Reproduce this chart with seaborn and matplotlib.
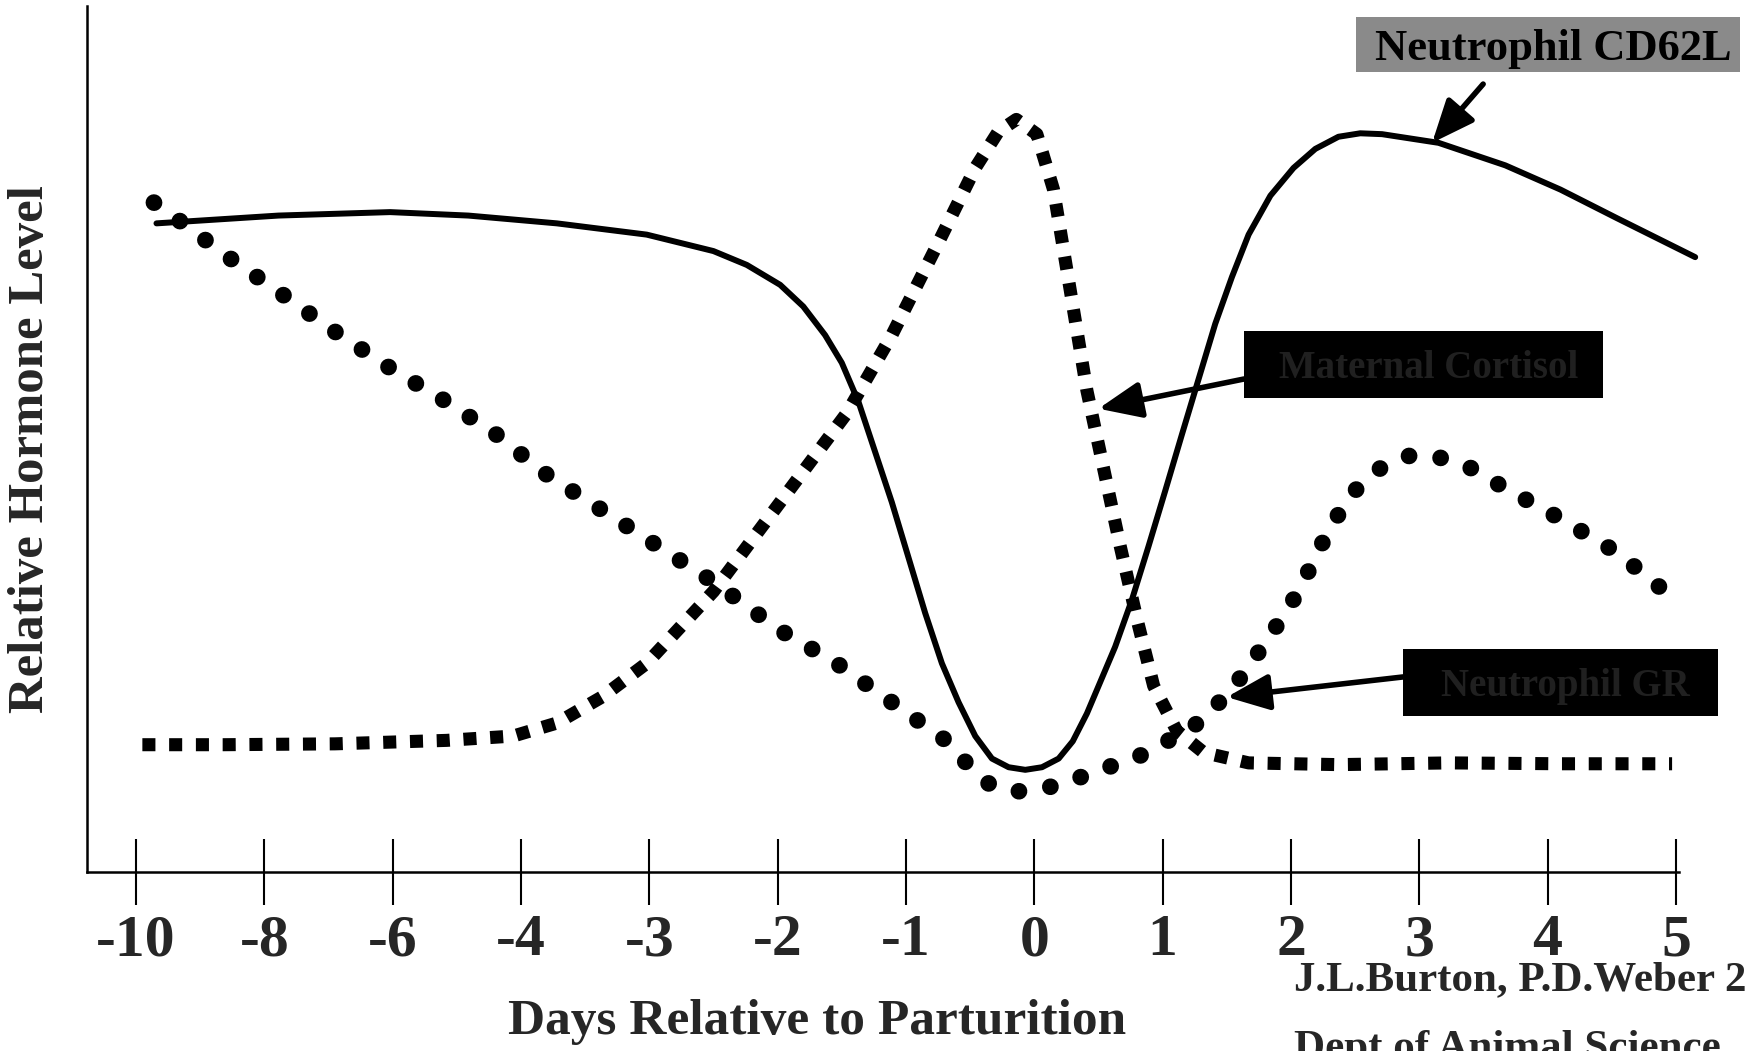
import numpy as np
import pandas as pd
import matplotlib
matplotlib.use("Agg")
import matplotlib.pyplot as plt
from matplotlib.patches import Rectangle
import seaborn as sns

# ── DATA (x = position on the evenly spaced day axis, y = relative level 0-100) ──
day_labels = ["-10", "-8", "-6", "-4", "-3", "-2", "-1", "0", "1", "2", "3", "4", "5"]

cd62l_x = [0.16, 1.11, 1.98, 2.59, 3.28, 3.98, 4.50, 4.76, 5.02, 5.20, 5.37, 5.50,
           5.63, 5.76, 5.89, 6.02, 6.15, 6.28, 6.41, 6.54, 6.67, 6.80, 6.93, 7.06,
           7.19, 7.30, 7.41, 7.63, 7.76, 7.89, 8.02, 8.15, 8.28, 8.41, 8.54, 8.67,
           8.84, 9.02, 9.19, 9.37, 9.54, 9.71, 9.93, 10.15, 10.67, 11.10, 11.54, 12.15]
cd62l_y = [74.9, 75.8, 76.2, 75.8, 74.9, 73.6, 71.7, 70.1, 67.8, 65.3, 62.0, 58.8,
           54.3, 48.5, 42.7, 36.3, 29.9, 24.1, 19.6, 15.7, 13.1, 12.1, 11.8, 12.1,
           13.1, 15.1, 18.3, 26.0, 31.4, 37.6, 44.0, 50.5, 56.9, 63.3, 68.7, 73.6,
           78.1, 81.3, 83.5, 84.9, 85.3, 85.2, 84.7, 84.2, 81.6, 78.8, 75.5, 71.0]

cortisol_x = [0.05, 0.68, 1.55, 2.42, 2.94, 3.28, 3.63, 3.98, 4.50, 5.02, 5.54, 5.89,
              6.24, 6.54, 6.72, 6.86, 7.02, 7.15, 7.28, 7.41, 7.54, 7.67, 7.80, 7.93,
              8.11, 8.32, 8.67, 9.37, 10.23, 11.10, 11.97]
cortisol_y = [14.7, 14.7, 14.8, 15.2, 15.7, 17.2, 20.2, 24.1, 32.4, 42.7, 53.0, 62.0,
              72.3, 81.3, 85.5, 86.9, 85.2, 78.8, 67.2, 55.6, 46.6, 37.6, 29.2, 21.5,
              16.3, 13.8, 12.6, 12.4, 12.6, 12.5, 12.5]

gr_x = [0.14, 0.33, 0.72, 1.16, 1.55, 1.98, 2.42, 2.81, 3.20, 3.63, 4.07, 4.50,
        5.02, 5.46, 5.89, 6.32, 6.50, 6.67, 6.89, 7.15, 7.41, 7.89, 8.32, 8.58,
        8.84, 9.06, 9.23, 9.45, 9.71, 9.93, 10.15, 10.41, 10.67, 11.10, 11.54, 11.89]
gr_y = [77.3, 75.3, 71.0, 66.5, 62.4, 58.2, 54.3, 50.5, 45.9, 41.8, 37.6, 33.5,
        27.9, 24.1, 19.6, 15.1, 12.1, 9.9, 9.3, 9.9, 11.2, 13.8, 17.6, 21.9,
        27.3, 32.4, 37.6, 43.4, 46.8, 48.1, 47.9, 46.6, 44.3, 40.8, 36.9, 32.7]

labels = ["Neutrophil CD62L", "Maternal Cortisol", "Neutrophil GR"]
arrow_targets = [(10.10, 84.2), (7.50, 53.5), (8.50, 20.2)]

sns.set_style("white")
plt.rcParams["font.family"] = ["Liberation Serif", "DejaVu Serif"]
plt.rcParams["font.weight"] = "bold"

fig = plt.figure(figsize=(17.49, 10.51), dpi=100)
ax = fig.add_axes([0.0497, 0.1703, 0.910, 0.824])

sns.lineplot(x=cd62l_x, y=cd62l_y, ax=ax, color="black", linewidth=4.3,
             clip_on=False)
sns.lineplot(x=cortisol_x, y=cortisol_y, ax=ax, color="black", linewidth=9.4,
             linestyle=(0, (1, 1.05)), dash_capstyle="butt", clip_on=False)
sns.lineplot(x=gr_x, y=gr_y, ax=ax, color="black", linewidth=12,
             linestyle=(0, (0.01, 1.9)), dash_capstyle="round", clip_on=False)

ax.set_xlim(-0.382, 12.02)
ax.set_ylim(0, 100)
ax.set_xticks(range(len(day_labels)))
ax.set_xticklabels(day_labels, fontsize=43, fontweight="bold")
ax.set_yticks([])
ax.tick_params(axis="x", bottom=True, direction="inout", length=47, width=1.5,
               pad=7, color="black")
for side in ["top", "right"]:
    ax.spines[side].set_visible(False)
for side in ["left", "bottom"]:
    ax.spines[side].set_color("black")
    ax.spines[side].set_linewidth(1.8)

ax.set_xlabel("Days Relative to Parturition", fontsize=37, fontweight="bold")
ax.xaxis.set_label_coords(0.459, -0.147)
ax.set_ylabel("Relative Hormone Level", fontsize=36.5, fontweight="bold")
ax.yaxis.set_label_coords(-0.021, 0.488)

# ── LABEL BOXES WITH ARROWS ──
boxes = [
    (0.7753, 0.9315, 0.2196, 0.0523, "#8a8a8a", "black", 32, (0.848, 0.920)),
    (0.7113, 0.6213, 0.2053, 0.0637, "black", "#202020", 28, (0.7113, 0.6394)),
    (0.8022, 0.3187, 0.1801, 0.0637, "black", "#202020", 28, (0.8022, 0.3559)),
]
for (x0, y0, w, h, fc, tc, fs, start), text, target in zip(boxes, labels, arrow_targets):
    fig.patches.append(Rectangle((x0, y0), w, h, transform=fig.transFigure,
                                 facecolor=fc, edgecolor="none", zorder=3))
    fig.text(x0 + w / 2 + 0.003, y0 + h / 2 - 0.004, text, ha="center", va="center",
             fontsize=fs, fontweight="bold", color=tc, zorder=4)
    ax.annotate("", xy=target, xycoords="data", xytext=start,
                textcoords="figure fraction",
                arrowprops=dict(arrowstyle="-|>,head_length=2.6,head_width=1.1",
                                color="black", lw=4, shrinkA=0, shrinkB=0))

fig.text(0.740, 0.058, "J.L.Burton, P.D.Weber 2000", fontsize=31,
         fontweight="bold", ha="left", va="baseline")
fig.text(0.740, -0.008, "Dept of Animal Science", fontsize=31,
         fontweight="bold", ha="left", va="baseline")

fig.savefig("out.png", dpi=100, facecolor="white")
